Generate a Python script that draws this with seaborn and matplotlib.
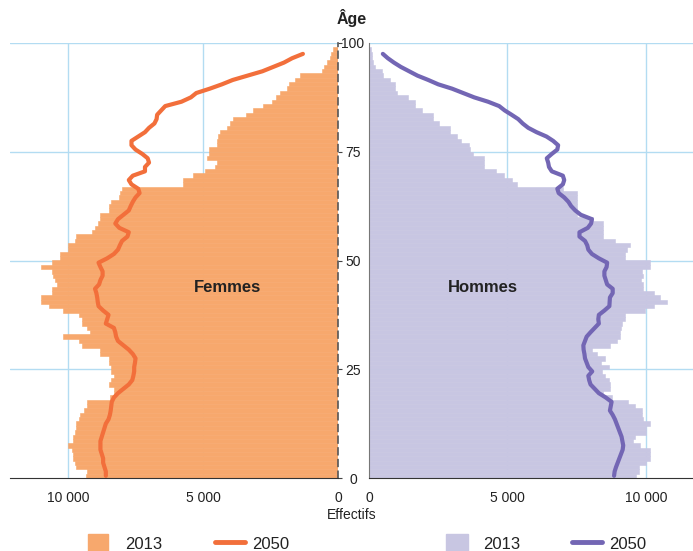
import numpy as np
import pandas as pd
import matplotlib
matplotlib.use('Agg')
import matplotlib.pyplot as plt
import seaborn as sns
from matplotlib.patches import Patch
from matplotlib.lines import Line2D

# Population by single year of age, in thousands
ages_2013 = np.arange(99)
femmes_2013 = [9.35, 9.3, 9.7, 9.75, 9.8, 9.8, 9.85, 10.0, 9.8, 9.8,
               9.75, 9.7, 9.7, 9.6, 9.55, 9.4, 9.3, 9.3, 8.45, 8.3,
               8.3, 8.5, 8.4, 8.3, 8.4, 8.4, 8.5, 8.5, 8.8, 8.8,
               9.5, 9.6, 10.2, 9.2, 9.3, 9.5, 9.5, 9.6, 10.2, 10.7,
               11.0, 11.0, 10.6, 10.6, 10.4, 10.5, 10.55, 10.6, 11.0, 10.6,
               10.3, 10.3, 10.0, 10.0, 9.75, 9.7, 9.1, 9.0, 8.9, 8.8,
               8.8, 8.5, 8.5, 8.4, 8.1, 8.07, 8.0, 5.73, 5.73, 5.36,
               4.93, 4.56, 4.5, 4.86, 4.78, 4.78, 4.5, 4.5, 4.45, 4.37,
               4.1, 4.0, 3.9, 3.4, 3.14, 2.77, 2.46, 2.3, 2.15, 1.9,
               1.8, 1.6, 1.4, 0.6, 0.52, 0.42, 0.3, 0.25, 0.2]
hommes_2013 = [9.64, 9.76, 9.76, 10.0, 10.14, 10.14, 10.14, 9.8, 9.54, 9.6,
               10.0, 10.0, 10.14, 9.9, 9.85, 9.85, 9.6, 9.35, 8.76, 8.45,
               8.7, 8.7, 8.65, 8.52, 8.4, 8.68, 8.36, 8.52, 8.22, 8.04,
               8.7, 8.94, 9.06, 9.06, 9.1, 9.12, 9.24, 9.24, 9.96, 10.3,
               10.77, 10.5, 10.3, 9.9, 9.9, 9.84, 9.9, 9.85, 10.14, 10.14,
               9.24, 9.24, 9.3, 9.42, 8.88, 8.45, 8.46, 8.46, 8.46, 8.1,
               7.5, 7.5, 7.5, 7.5, 7.5, 7.5, 7.0, 5.33, 5.15, 4.89,
               4.58, 4.15, 4.15, 4.15, 3.74, 3.65, 3.6, 3.31, 3.19, 2.92,
               2.92, 2.54, 2.3, 2.3, 1.9, 1.66, 1.66, 1.42, 1.0, 0.94,
               0.94, 0.76, 0.52, 0.47, 0.22, 0.16, 0.12, 0.1, 0.08]

ages_2050 = np.arange(98)
femmes_2050 = [8.6, 8.6, 8.65, 8.7, 8.7, 8.75, 8.8, 8.8, 8.8, 8.75,
               8.7, 8.65, 8.6, 8.5, 8.45, 8.42, 8.4, 8.38, 8.3, 8.15,
               7.95, 7.75, 7.62, 7.58, 7.55, 7.55, 7.52, 7.5, 7.6, 7.75,
               7.95, 8.15, 8.22, 8.25, 8.3, 8.6, 8.55, 8.5, 8.7, 8.87,
               8.9, 8.92, 8.95, 9.0, 8.85, 8.8, 8.72, 8.72, 8.8, 8.87,
               8.55, 8.3, 8.15, 8.08, 8.0, 7.8, 7.75, 8.1, 8.25, 8.15,
               7.95, 7.75, 7.68, 7.6, 7.5, 7.35, 7.4, 7.65, 7.75, 7.6,
               7.15, 7.15, 7.0, 7.05, 7.25, 7.5, 7.65, 7.65, 7.4, 7.15,
               7.0, 6.8, 6.72, 6.7, 6.55, 6.4, 5.8, 5.45, 5.25, 4.75,
               4.3, 3.9, 3.35, 2.8, 2.4, 2.0, 1.7, 1.3]
hommes_2050 = [8.85, 8.87, 8.92, 8.98, 9.04, 9.1, 9.16, 9.18, 9.15, 9.12,
               9.06, 9.0, 8.94, 8.88, 8.8, 8.7, 8.73, 8.76, 8.55, 8.3,
               8.15, 8.0, 7.95, 7.92, 8.06, 7.92, 7.86, 7.8, 7.78, 7.75,
               7.74, 7.8, 7.86, 8.0, 8.15, 8.3, 8.28, 8.3, 8.5, 8.68,
               8.69, 8.7, 8.8, 8.8, 8.6, 8.55, 8.5, 8.5, 8.58, 8.6,
               8.3, 8.05, 7.92, 7.88, 7.8, 7.6, 7.6, 7.9, 8.02, 8.05,
               7.65, 7.45, 7.3, 7.2, 7.05, 6.85, 6.8, 7.0, 7.05, 7.0,
               6.6, 6.5, 6.47, 6.42, 6.6, 6.8, 6.83, 6.65, 6.41, 6.05,
               5.75, 5.55, 5.39, 5.15, 4.9, 4.7, 4.3, 3.8, 3.4, 3.0,
               2.5, 2.14, 1.75, 1.45, 1.15, 0.9, 0.68, 0.5]

age_ticks = [0, 25, 50, 75, 100]
left_ticks = [10000, 5000, 0]
left_labels = ['10 000', '5 000', '0']
right_ticks = [0, 5000, 10000]
right_labels = ['0', '5 000', '10 000']

c_f_bar, c_f_line = '#f7a86d', '#f26f3b'
c_h_bar, c_h_line = '#c8c6e2', '#7366b4'
c_grid = '#b3dcf2'

df13 = pd.DataFrame({'age': ages_2013 + 0.5,
                     'femmes': np.array(femmes_2013) * 1000,
                     'hommes': np.array(hommes_2013) * 1000})
df50 = pd.DataFrame({'age': ages_2050 + 0.5,
                     'femmes': np.array(femmes_2050) * 1000,
                     'hommes': np.array(hommes_2050) * 1000})

sns.set_style('white')
plt.rcParams['font.family'] = ['Liberation Sans', 'DejaVu Sans']
plt.rcParams['text.color'] = '#222222'
plt.rcParams['xtick.color'] = '#444444'
plt.rcParams['ytick.color'] = '#444444'
plt.rcParams['xtick.labelcolor'] = '#222222'
plt.rcParams['ytick.labelcolor'] = '#222222'

fig = plt.figure(figsize=(6.93, 5.51), dpi=100)
ax_f = fig.add_axes([10 / 693, 73 / 551, 328 / 693, 435 / 551])
ax_h = fig.add_axes([369 / 693, 73 / 551, 324 / 693, 435 / 551])

for ax, col, cb, cl in [(ax_f, 'femmes', c_f_bar, c_f_line),
                        (ax_h, 'hommes', c_h_bar, c_h_line)]:
    sns.barplot(data=df13, x=col, y='age', orient='h', native_scale=True,
                width=1, color=cb, saturation=1, errorbar=None,
                linewidth=0.4, edgecolor=cb, ax=ax)
    sns.lineplot(data=df50, x=col, y='age', orient='y', color=cl,
                 linewidth=3, ax=ax)
    ax.set_xlabel('')
    ax.set_ylabel('')
    ax.set_ylim(0, 100)
    ax.set_yticks(age_ticks)
    ax.grid(True, color=c_grid, linewidth=1)
    ax.set_axisbelow(True)
    ax.spines['top'].set_visible(False)
    ax.spines['bottom'].set_color('#333333')
    ax.tick_params(axis='x', length=4, labelsize=10, pad=5)

# Femmes (left, reversed)
ax_f.set_xlim(12150, 0)
ax_f.set_xticks(left_ticks)
ax_f.set_xticklabels(left_labels)
ax_f.yaxis.tick_right()
ax_f.tick_params(axis='y', labelright=False, length=3)
ax_f.spines['left'].set_visible(False)
ax_f.spines['right'].set_linestyle((0, (4, 3)))
ax_f.spines['right'].set_color('#555555')
ax_f.spines['right'].set_linewidth(1.2)
ax_f.get_xgridlines()[2].set_visible(False)
ax_f.get_ygridlines()[0].set_visible(False)

# Hommes (right)
ax_h.set_xlim(0, 11700)
ax_h.set_xticks(right_ticks)
ax_h.set_xticklabels(right_labels)
ax_h.spines['right'].set_visible(False)
ax_h.spines['left'].set_color('#777777')
ax_h.tick_params(axis='y', length=3, pad=8.5, labelsize=10)
for lbl in ax_h.get_yticklabels():
    lbl.set_horizontalalignment('center')
ax_h.get_xgridlines()[0].set_visible(False)
ax_h.get_ygridlines()[0].set_visible(False)

ax_f.text(4080, 43.7, 'Femmes', ha='center', va='center',
          fontsize=12, fontweight='bold')
ax_h.text(4120, 43.7, 'Hommes', ha='center', va='center',
          fontsize=12, fontweight='bold')

fig.text(352 / 693, 1 - 18 / 551, 'Âge', ha='center', va='center',
         fontsize=11.5, fontweight='bold')
fig.text(352 / 693, 1 - 515 / 551, 'Effectifs', ha='center', va='center',
         fontsize=10)


def add_key(handle, label, x_px, hl, pad):
    fig.legend(handles=[handle], labels=[label], loc='center left',
               bbox_to_anchor=(x_px / 693, 1 - 543 / 551), frameon=False,
               fontsize=12, borderpad=0, borderaxespad=0,
               handlelength=hl, handleheight=1.2, handletextpad=pad)


add_key(Patch(color=c_f_bar), '2013', 88, 1.2, 1.0)
add_key(Line2D([], [], color=c_f_line, linewidth=3.5), '2050', 215, 1.8, 0.4)
add_key(Patch(color=c_h_bar), '2013', 446, 1.3, 0.9)
add_key(Line2D([], [], color=c_h_line, linewidth=3.5), '2050', 572, 1.8, 0.45)

fig.savefig('out.png', dpi=100)
